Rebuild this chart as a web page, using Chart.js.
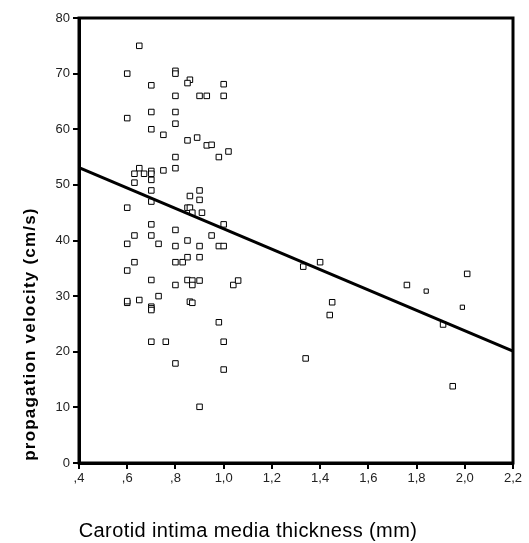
<!DOCTYPE html>
<html>
<head>
<meta charset="utf-8">
<script src="https://cdn.jsdelivr.net/npm/chart.js@4.4.1/dist/chart.umd.min.js"></script>
<style>
  html, body { margin: 0; padding: 0; background: #fff; }
  canvas { display: block; }
</style>
</head>
<body>
<canvas id="chart" width="529" height="543"></canvas>
<script>
// IMT (mm) vs propagation velocity (cm/s)
const imt = [
  0.65, 0.60, 0.80, 0.80, 0.86, 0.85, 0.70, 1.00, 0.80, 0.90,
  0.93, 1.00, 0.60, 0.70, 0.80, 0.80, 0.70, 0.75, 0.85, 0.89,
  0.93, 0.95, 0.98, 1.02, 0.80, 0.80, 0.65, 0.63, 0.67, 0.70,
  0.70, 0.70, 0.75, 0.63, 0.70, 0.70, 0.60, 0.86, 0.90, 0.90,
  0.85, 0.86, 0.87, 0.91, 1.00, 0.70, 0.80, 0.63, 0.70, 0.95,
  0.85, 0.60, 0.73, 0.80, 0.90, 0.98, 1.00, 0.63, 0.60, 0.80,
  0.83, 0.85, 0.90, 0.70, 0.80, 0.85, 0.87, 0.87, 0.90, 1.04,
  1.06, 0.60, 0.60, 0.65, 0.73, 0.70, 0.70, 0.70, 0.86, 0.87,
  0.98, 0.70, 0.76, 1.00, 0.80, 1.00, 0.90, 1.33, 1.40, 1.45,
  1.44, 1.34, 1.76, 1.84, 2.01, 1.99, 1.91, 1.95
];
const velocity = [
  75.0, 70.0, 70.5, 70.0, 68.9, 68.3, 67.9, 68.1, 66.0, 66.0,
  66.0, 66.0, 62.0, 63.1, 63.1, 61.0, 60.0, 59.0, 58.0, 58.5,
  57.1, 57.2, 55.0, 56.0, 55.0, 53.0, 53.0, 52.0, 52.0, 52.5,
  52.0, 50.9, 52.6, 50.4, 49.0, 47.0, 45.9, 48.0, 49.0, 47.3,
  45.9, 45.9, 45.0, 45.0, 42.9, 42.9, 41.9, 40.9, 40.9, 40.9,
  40.0, 39.4, 39.4, 39.0, 39.0, 39.0, 39.0, 36.1, 34.6, 36.1,
  36.1, 37.0, 37.0, 32.9, 32.0, 32.9, 32.8, 32.0, 32.8, 32.0,
  32.8, 28.8, 29.1, 29.3, 30.0, 28.1, 27.8, 27.5, 29.0, 28.8,
  25.3, 21.8, 21.8, 21.8, 17.9, 16.8, 10.1, 35.3, 36.1, 28.9,
  26.6, 18.8, 32.0, 30.9, 34.0, 28.0, 24.9, 13.8
];
// fitted regression line end points
const fitX = [0.4, 2.2];
const fitY = [53.1, 20.1];

const xTicks = [0.4, 0.6, 0.8, 1.0, 1.2, 1.4, 1.6, 1.8, 2.0, 2.2];
const yTicks = [0, 10, 20, 30, 40, 50, 60, 70, 80];

const xTitle = 'Carotid intima media thickness (mm)';
const yTitle = 'propagation velocity (cm/s)';

// points drawn with a smaller marker in the original
const smallMarks = [93, 95];

const points = imt.map((x, i) => ({ x: x, y: velocity[i] }));
const fitLine = fitX.map((x, i) => ({ x: x, y: fitY[i] }));

// SPSS style tick text: ",4" and "1,0"
function spssNum(v) {
  let s = v.toFixed(1).replace('.', ',');
  if (s.startsWith('0,')) s = s.slice(1);
  return s;
}

// box round the plot and the two axis titles
const frameAndTitles = {
  id: 'frameAndTitles',
  afterDatasetsDraw(chart) {
    const { ctx, chartArea: a } = chart;
    ctx.save();
    ctx.strokeStyle = '#000';
    ctx.lineWidth = 3;
    ctx.strokeRect(a.left, a.top, a.right - a.left, a.bottom - a.top);

    ctx.fillStyle = '#000';
    ctx.textAlign = 'center';
    ctx.textBaseline = 'middle';
    ctx.font = '20px "Liberation Sans", Arial, sans-serif';
    ctx.letterSpacing = '0.4px';
    ctx.fillText(xTitle, 248, 531);

    ctx.translate(30, 334);
    ctx.rotate(-Math.PI / 2);
    ctx.font = 'bold 17px "Liberation Sans", Arial, sans-serif';
    ctx.letterSpacing = '1.2px';
    ctx.fillText(yTitle, 0, 0);
    ctx.restore();
  }
};

new Chart(document.getElementById('chart'), {
  type: 'scatter',
  data: {
    datasets: [
      {
        label: 'cases',
        data: points,
        pointStyle: 'rect',
        pointRadius: ctx => smallMarks.includes(ctx.dataIndex) ? 3 : 3.9,
        pointBorderWidth: 1,
        pointBorderColor: '#000',
        pointBackgroundColor: '#fff',
        order: 2
      },
      {
        type: 'line',
        label: 'fit',
        data: fitLine,
        borderColor: '#000',
        borderWidth: 3,
        pointRadius: 0,
        fill: false,
        order: 1
      }
    ]
  },
  options: {
    responsive: false,
    animation: false,
    devicePixelRatio: 1,
    layout: { padding: { left: 0, top: 18, right: 16, bottom: 0 } },
    plugins: {
      legend: { display: false },
      tooltip: { enabled: false }
    },
    scales: {
      x: {
        type: 'linear',
        min: 0.4,
        max: 2.2,
        afterBuildTicks: s => { s.ticks = xTicks.map(v => ({ value: v })); },
        afterFit: s => { s.height = 80; },
        border: { display: true, color: '#000', width: 3 },
        grid: { drawOnChartArea: false, drawTicks: true, tickLength: 6, color: '#000', lineWidth: 2 },
        ticks: {
          color: '#222',
          padding: 2,
          maxRotation: 0,
          font: { family: '"Liberation Sans", Arial, sans-serif', size: 13 },
          callback: v => spssNum(v)
        }
      },
      y: {
        type: 'linear',
        min: 0,
        max: 80,
        afterBuildTicks: s => { s.ticks = yTicks.map(v => ({ value: v })); },
        afterFit: s => { s.width = 79; },
        border: { display: true, color: '#000', width: 3 },
        grid: { drawOnChartArea: false, drawTicks: true, tickLength: 6, color: '#000', lineWidth: 2 },
        ticks: {
          color: '#222',
          padding: 3,
          font: { family: '"Liberation Sans", Arial, sans-serif', size: 13 },
          callback: v => String(v)
        }
      }
    }
  },
  plugins: [frameAndTitles]
});
</script>
</body>
</html>
